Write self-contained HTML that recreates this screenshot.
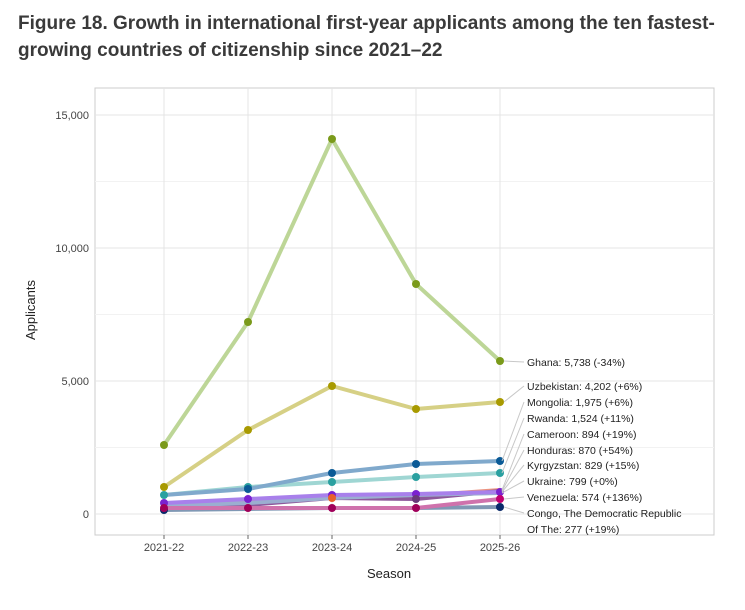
<!DOCTYPE html>
<html><head><meta charset="utf-8"><style>
body{margin:0;background:#fff;width:745px;height:610px;overflow:hidden}
.t{position:absolute;left:18px;top:10px;font:bold 19px/27px "Liberation Sans",sans-serif;color:#3a3a3a;white-space:nowrap}
svg{position:absolute;left:0;top:0}
text{font-family:"Liberation Sans",sans-serif}
</style></head><body>
<div class="t">Figure 18. Growth in international first-year applicants among the ten fastest-<br>growing countries of citizenship since 2021–22</div>
<svg width="745" height="610">
<rect x="95" y="88" width="619" height="447" fill="#fff" stroke="#ccc"/>
<g stroke="#f2f2f2" stroke-width="1">
<line x1="95" x2="714" y1="447.5" y2="447.5"/><line x1="95" x2="714" y1="314.5" y2="314.5"/><line x1="95" x2="714" y1="181.5" y2="181.5"/>
</g>
<g stroke="#e4e4e4" stroke-width="1">
<line x1="95" x2="714" y1="514" y2="514"/><line x1="95" x2="714" y1="381" y2="381"/><line x1="95" x2="714" y1="248" y2="248"/><line x1="95" x2="714" y1="115" y2="115"/>
<line x1="164" x2="164" y1="88" y2="535"/><line x1="248" x2="248" y1="88" y2="535"/><line x1="332" x2="332" y1="88" y2="535"/><line x1="416" x2="416" y1="88" y2="535"/><line x1="500" x2="500" y1="88" y2="535"/>
</g>
<g font-size="11" fill="#444" text-anchor="end">
<text x="89" y="518">0</text><text x="89" y="385">5,000</text><text x="89" y="252">10,000</text><text x="89" y="119">15,000</text>
</g>
<g font-size="11" fill="#444" text-anchor="middle">
<text x="164" y="551">2021-22</text><text x="248" y="551">2022-23</text><text x="332" y="551">2023-24</text><text x="416" y="551">2024-25</text><text x="500" y="551">2025-26</text>
</g>
<g stroke="#666"><line x1="164" x2="164" y1="535" y2="539"/><line x1="248" x2="248" y1="535" y2="539"/><line x1="332" x2="332" y1="535" y2="539"/><line x1="416" x2="416" y1="535" y2="539"/><line x1="500" x2="500" y1="535" y2="539"/></g>
<text x="389" y="578" font-size="13" text-anchor="middle" fill="#222">Season</text>
<text x="35" y="310" font-size="13" text-anchor="middle" fill="#222" transform="rotate(-90 35 310)">Applicants</text>
<g fill="none" stroke-width="4" stroke-linejoin="round" opacity="0.85">
<polyline stroke="#6a87a8" points="164,510 248,509 332,508 416,508 500,507"/>
<polyline stroke="#e8806b" points="164,505 248,501 332,498 416,496 500,490"/>
<polyline stroke="#7a3b8a" points="164,507 248,505 332,498 416,499 500,491"/>
<polyline stroke="#8aa0c8" points="164,506 248,503 332,498 416,495 500,493"/>
<polyline stroke="#9a6ae8" points="164,503 248,499 332,495 416,494 500,492"/>
<polyline stroke="#c75a9e" points="164,508 248,508 332,508 416,508 500,499"/>
<polyline stroke="#8fd0cc" points="164,495 248,487 332,482 416,477 500,473"/>
<polyline stroke="#6a9bc4" points="164,495 248,489 332,473 416,464 500,461"/>
<polyline stroke="#cfc870" points="164,487 248,430 332,386 416,409 500,402"/>
<polyline stroke="#b2cf85" points="164,445 248,322 332,139 416,284 500,361"/>
</g>
<g>
<circle cx="164" cy="445" r="4" fill="#7a9a1a"/><circle cx="248" cy="322" r="4" fill="#7a9a1a"/><circle cx="332" cy="139" r="4" fill="#7a9a1a"/><circle cx="416" cy="284" r="4" fill="#7a9a1a"/><circle cx="500" cy="361" r="4" fill="#7a9a1a"/>
<circle cx="164" cy="487" r="4" fill="#a89a00"/><circle cx="248" cy="430" r="4" fill="#a89a00"/><circle cx="332" cy="386" r="4" fill="#a89a00"/><circle cx="416" cy="409" r="4" fill="#a89a00"/><circle cx="500" cy="402" r="4" fill="#a89a00"/>
<circle cx="164" cy="495" r="4" fill="#2aa0a0"/><circle cx="248" cy="487" r="4" fill="#2aa0a0"/><circle cx="332" cy="482" r="4" fill="#2aa0a0"/><circle cx="416" cy="477" r="4" fill="#2aa0a0"/><circle cx="500" cy="473" r="4" fill="#2aa0a0"/>
<circle cx="248" cy="489" r="4" fill="#0a5a96"/><circle cx="332" cy="473" r="4" fill="#0a5a96"/><circle cx="416" cy="464" r="4" fill="#0a5a96"/><circle cx="500" cy="461" r="4" fill="#0a5a96"/>
<circle cx="164" cy="503" r="4" fill="#7a22d0"/><circle cx="248" cy="499" r="4" fill="#7a22d0"/><circle cx="332" cy="495" r="4" fill="#7a22d0"/><circle cx="416" cy="494" r="4" fill="#7a22d0"/><circle cx="500" cy="492" r="4" fill="#7a22d0"/>
<circle cx="332" cy="498" r="4" fill="#e8602b"/><circle cx="416" cy="499" r="4" fill="#6a3a7a"/>
<circle cx="164" cy="510" r="4" fill="#0a2a6a"/>
<circle cx="164" cy="508" r="4" fill="#a0005a"/><circle cx="248" cy="508" r="4" fill="#a0005a"/><circle cx="332" cy="508" r="4" fill="#a0005a"/><circle cx="416" cy="508" r="4" fill="#a0005a"/><circle cx="500" cy="499" r="4" fill="#c00070"/>
<circle cx="500" cy="507" r="4" fill="#0a2a6a"/>
</g>
<g stroke="#c8c8c8" stroke-width="1" fill="none">
<line x1="504" y1="361" x2="524" y2="362"/><line x1="504" y1="402" x2="524" y2="386"/>
<line x1="502" y1="461" x2="524" y2="402"/><line x1="502" y1="473" x2="524" y2="418"/>
<line x1="502" y1="490" x2="524" y2="434"/><line x1="502" y1="491" x2="524" y2="450"/>
<line x1="502" y1="492" x2="524" y2="465"/><line x1="502" y1="493" x2="524" y2="481"/>
<line x1="504" y1="499" x2="524" y2="497"/><line x1="504" y1="507" x2="524" y2="513"/>
</g>
<g font-size="10.5" fill="#222">
<text x="527" y="366">Ghana: 5,738 (-34%)</text>
<text x="527" y="390">Uzbekistan: 4,202 (+6%)</text>
<text x="527" y="406">Mongolia: 1,975 (+6%)</text>
<text x="527" y="422">Rwanda: 1,524 (+11%)</text>
<text x="527" y="438">Cameroon: 894 (+19%)</text>
<text x="527" y="454">Honduras: 870 (+54%)</text>
<text x="527" y="469">Kyrgyzstan: 829 (+15%)</text>
<text x="527" y="485">Ukraine: 799 (+0%)</text>
<text x="527" y="501">Venezuela: 574 (+136%)</text>
<text x="527" y="517">Congo, The Democratic Republic</text>
<text x="527" y="533">Of The: 277 (+19%)</text>
</g>
</svg>
</body></html>
